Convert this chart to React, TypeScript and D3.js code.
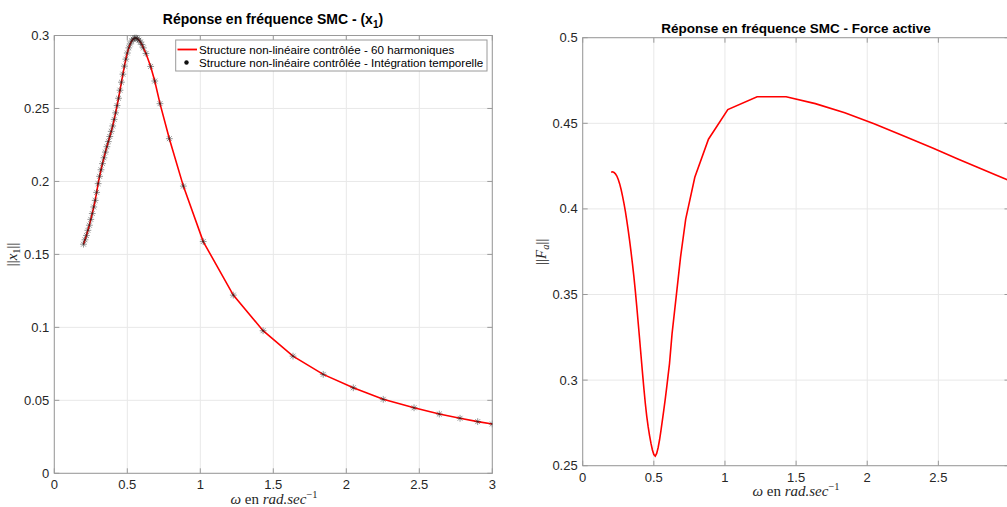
import React from 'react';
import * as d3 from 'd3';

// ---------- DATA ----------
const omega = [
  0.20, 0.21, 0.22, 0.23, 0.24, 0.25, 0.26, 0.27, 0.28, 0.29,
  0.30, 0.31, 0.32, 0.33, 0.34, 0.35, 0.36, 0.37, 0.38, 0.39,
  0.40, 0.41, 0.42, 0.43, 0.44, 0.45, 0.46, 0.47, 0.48, 0.49,
  0.50, 0.51, 0.52, 0.53, 0.54, 0.55, 0.56, 0.57, 0.58, 0.59,
  0.60, 0.61,
  0.628, 0.66, 0.688, 0.724, 0.788, 0.884, 1.02, 1.226, 1.43, 1.635,
  1.842, 2.048, 2.253, 2.464, 2.637, 2.779, 2.9, 3.0,
];

const x1Harm = [
  0.157, 0.160, 0.163, 0.1665, 0.170, 0.174, 0.178, 0.1825, 0.187, 0.1925,
  0.1985, 0.2035, 0.208, 0.2122, 0.2162, 0.2201, 0.2238, 0.2273, 0.2308, 0.2343,
  0.238, 0.2425, 0.247, 0.252, 0.257, 0.2625, 0.268, 0.2735, 0.279, 0.2838,
  0.288, 0.2915, 0.2942, 0.2962, 0.2975, 0.2982, 0.2983, 0.2978, 0.2968, 0.2955,
  0.2938, 0.2915,
  0.2877, 0.2788, 0.2688, 0.2533, 0.2293, 0.1968, 0.1588, 0.1221, 0.0977, 0.0803,
  0.0678, 0.0586, 0.0507, 0.0449, 0.0406, 0.0377, 0.0354, 0.0338,
];

// time-integration points (same frequencies)
const x1Time = x1Harm;

const forceActive = [
  0.4214, 0.4217, 0.4213, 0.4205, 0.4192, 0.4172, 0.4146, 0.4113, 0.4075, 0.4032,
  0.3985, 0.3932, 0.3875, 0.3813, 0.3747, 0.3677, 0.3603, 0.3520, 0.3430, 0.3335,
  0.3240, 0.3142, 0.3045, 0.2952, 0.2865, 0.2790, 0.2728, 0.2675, 0.2630, 0.2592,
  0.2565, 0.2556, 0.2572, 0.2605, 0.2650, 0.2705, 0.2765, 0.2825, 0.2888, 0.2955,
  0.3025, 0.3095,
  0.3270, 0.3510, 0.3720, 0.3940, 0.4185, 0.4407, 0.4580, 0.4655, 0.4655, 0.4615,
  0.4562, 0.4497, 0.4427, 0.4354, 0.4292, 0.4242, 0.4200, 0.4165,
];

const xTicks = [0, 0.5, 1, 1.5, 2, 2.5, 3];
const xTickLabels = ['0', '0.5', '1', '1.5', '2', '2.5', '3'];
const yTicksLeft = [0, 0.05, 0.1, 0.15, 0.2, 0.25, 0.3];
const yTickLabelsLeft = ['0', '0.05', '0.1', '0.15', '0.2', '0.25', '0.3'];
const yTicksRight = [0.25, 0.3, 0.35, 0.4, 0.45, 0.5];
const yTickLabelsRight = ['0.25', '0.3', '0.35', '0.4', '0.45', '0.5'];

const legendLabels = [
  'Structure non-linéaire contrôlée - 60 harmoniques',
  'Structure non-linéaire contrôlée - Intégration temporelle',
];

// ---------- STYLE ----------
const FONT = '"Liberation Sans", Arial, Helvetica, sans-serif';
const SERIF = '"Liberation Serif", "DejaVu Serif", serif';
const TXT = '#262626';
const AXIS = '#9a9a9a';
const GRID = '#e8e8e8';
const RED = '#ff0000';
const W = 1007;

type AxesProps = {
  x0: number; x1: number; y0: number; y1: number;
  yDomain: [number, number];
  yTicks: number[]; yLabels: string[];
  clipId: string;
  children: (sx: d3.ScaleLinear<number, number>, sy: d3.ScaleLinear<number, number>) => React.ReactNode;
};

function Axes({ x0, x1, y0, y1, yDomain, yTicks, yLabels, clipId, children }: AxesProps) {
  const sx = d3.scaleLinear().domain([0, 3]).range([x0, x1]);
  const sy = d3.scaleLinear().domain(yDomain).range([y1, y0]);
  const tl = 5;
  return (
    <g>
      <defs>
        <clipPath id={clipId}>
          <rect x={x0} y={y0 - 4} width={x1 - x0} height={y1 - y0 + 8} />
        </clipPath>
      </defs>
      {xTicks.map((t) => (
        <line key={'gx' + t} x1={sx(t)} x2={sx(t)} y1={y0} y2={y1} stroke={GRID} strokeWidth={1} />
      ))}
      {yTicks.map((t) => (
        <line key={'gy' + t} x1={x0} x2={x1} y1={sy(t)} y2={sy(t)} stroke={GRID} strokeWidth={1} />
      ))}
      <rect x={x0} y={y0} width={x1 - x0} height={y1 - y0} fill="none" stroke={AXIS} strokeWidth={1} />
      {xTicks.map((t) => (
        <g key={'tx' + t}>
          <line x1={sx(t)} x2={sx(t)} y1={y1} y2={y1 - tl} stroke={AXIS} />
          <line x1={sx(t)} x2={sx(t)} y1={y0} y2={y0 + tl} stroke={AXIS} />
        </g>
      ))}
      {yTicks.map((t) => (
        <g key={'ty' + t}>
          <line x1={x0} x2={x0 + tl} y1={sy(t)} y2={sy(t)} stroke={AXIS} />
          <line x1={x1} x2={x1 - tl} y1={sy(t)} y2={sy(t)} stroke={AXIS} />
        </g>
      ))}
      {xTicks.map((t, i) =>
        sx(t) + 4 < W ? (
          <text key={'lx' + t} x={sx(t)} y={y1 + 16} textAnchor="middle" fontFamily={FONT} fontSize={13} fill={TXT}>
            {xTickLabels[i]}
          </text>
        ) : null
      )}
      {yTicks.map((t, i) => (
        <text key={'ly' + t} x={x0 - 5} y={sy(t) + 4.5} textAnchor="end" fontFamily={FONT} fontSize={13} fill={TXT}>
          {yLabels[i]}
        </text>
      ))}
      <g clipPath={`url(#${clipId})`}>{children(sx, sy)}</g>
    </g>
  );
}

function asterisk(x: number, y: number, r: number) {
  const d = r * 0.72;
  return `M${x - r},${y}H${x + r}M${x},${y - r}V${y + r}M${x - d},${y - d}L${x + d},${y + d}M${x - d},${y + d}L${x + d},${y - d}`;
}

export default function App() {
  const L = { x0: 54.3, x1: 492.3, y0: 35.5, y1: 473.3 };
  const R = { x0: 582.7, x1: 1009.5, y0: 37.7, y1: 465.7 };
  const pts = omega.map((w, i) => ({ w, a: x1Harm[i], t: x1Time[i], f: forceActive[i] }));

  return (
    <svg width={W} height={507} style={{ position: 'absolute', left: 0, top: 0, background: '#fff' }}>
      <rect x={0} y={0} width={W} height={507} fill="#fff" />
      {/* LEFT PLOT */}
      <Axes {...L} yDomain={[0, 0.3]} yTicks={yTicksLeft} yLabels={yTickLabelsLeft} clipId="clipL">
        {(sx, sy) => {
          const line = d3.line<typeof pts[0]>().x((p) => sx(p.w)).y((p) => sy(p.a));
          return (
            <g>
              <path d={line(pts) || ''} fill="none" stroke={RED} strokeWidth={1.6} />
              <path
                d={pts.map((p) => asterisk(sx(p.w), sy(p.t), 3.4)).join('')}
                fill="none"
                stroke="#222"
                strokeOpacity={0.6}
                strokeWidth={0.8}
              />
            </g>
          );
        }}
      </Axes>
      <text x={273} y={24} textAnchor="middle" fontFamily={FONT} fontSize={14} fontWeight="bold" fill="#000">
        Réponse en fréquence SMC - (x
        <tspan fontSize={10} dy={4}>1</tspan>
        <tspan dy={-4}>)</tspan>
      </text>
      <g>
        <rect x={175.7} y={40} width={311.3} height={31} fill="#fff" stroke={AXIS} strokeWidth={1} />
        <line x1={177.5} x2={197} y1={49.5} y2={49.5} stroke={RED} strokeWidth={1.8} />
        <circle cx={186.5} cy={62.5} r={2.2} fill="#111" />
        <text x={199} y={53.5} fontFamily={FONT} fontSize={11.6} fill="#000">{legendLabels[0]}</text>
        <text x={199} y={66.5} fontFamily={FONT} fontSize={11.6} fill="#000">{legendLabels[1]}</text>
      </g>
      <text x={274} y={504} textAnchor="middle" fontFamily={SERIF} fontSize={15} fill={TXT}>
        <tspan fontStyle="italic">ω</tspan> en <tspan fontStyle="italic">rad.sec</tspan>
        <tspan fontSize={10.5} dy={-6}>−1</tspan>
      </text>
      <text transform="translate(17,254.4) rotate(-90)" textAnchor="middle" fontFamily={SERIF} fontSize={15} fill={TXT}>
        ||<tspan fontStyle="italic">x</tspan><tspan fontSize={10.5} dy={3}>1</tspan><tspan dy={-3}>||</tspan>
      </text>

      {/* RIGHT PLOT */}
      <Axes {...R} yDomain={[0.25, 0.5]} yTicks={yTicksRight} yLabels={yTickLabelsRight} clipId="clipR">
        {(sx, sy) => {
          const line = d3.line<typeof pts[0]>().x((p) => sx(p.w)).y((p) => sy(p.f));
          return <path d={line(pts) || ''} fill="none" stroke={RED} strokeWidth={1.6} />;
        }}
      </Axes>
      <text x={796} y={33} textAnchor="middle" fontFamily={FONT} fontSize={13.5} fontWeight="bold" fill="#000">
        Réponse en fréquence SMC - Force active
      </text>
      <text x={796} y={496} textAnchor="middle" fontFamily={SERIF} fontSize={15} fill={TXT}>
        <tspan fontStyle="italic">ω</tspan> en <tspan fontStyle="italic">rad.sec</tspan>
        <tspan fontSize={10.5} dy={-6}>−1</tspan>
      </text>
      <text transform="translate(546,251.7) rotate(-90)" textAnchor="middle" fontFamily={SERIF} fontSize={15} fill={TXT}>
        ||<tspan fontStyle="italic">F</tspan><tspan fontSize={10.5} fontStyle="italic" dy={3}>a</tspan><tspan dy={-3}>||</tspan>
      </text>
    </svg>
  );
}
